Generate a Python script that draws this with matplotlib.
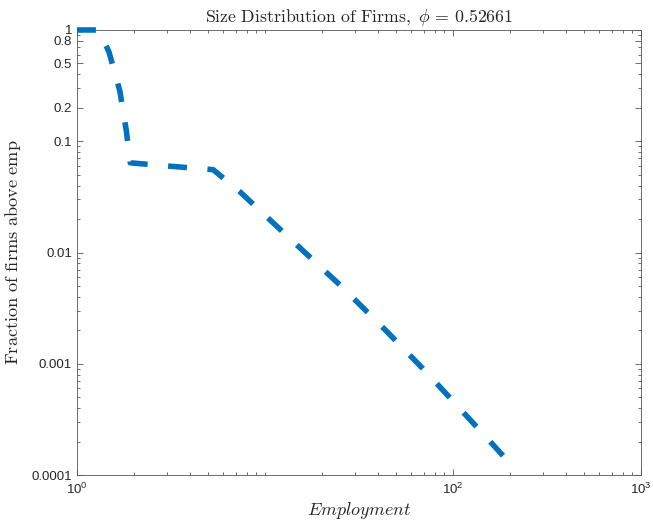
import matplotlib
matplotlib.use("Agg")
import matplotlib.pyplot as plt
from matplotlib.ticker import LogLocator, NullFormatter, FixedLocator

# Data
employment = [1.0, 1.31, 1.48, 1.69, 1.83, 1.92, 3.0, 5.3, 5.8, 7.35, 13.8, 25.7, 43.8, 72.6, 120.0, 194.0]
fraction_above = [1.0, 1.0, 0.634, 0.283, 0.124, 0.064, 0.060, 0.0555, 0.049, 0.0352,
                  0.0130, 0.0049, 0.0020, 0.00083, 0.00033, 0.000136]

yticks = [1e-4, 1e-3, 1e-2, 0.1, 0.2, 0.5, 0.8, 1.0]
ytick_labels = ["0.0001", "0.001", "0.01", "0.1", "0.2", "0.5", "0.8", "1"]
xticks = [1, 100, 1000]
xtick_labels = [r"$\mathregular{10^{0}}$", r"$\mathregular{10^{2}}$", r"$\mathregular{10^{3}}$"]

plt.rcParams["font.family"] = ["Liberation Sans", "DejaVu Sans"]
plt.rcParams["mathtext.fontset"] = "custom"
plt.rcParams["mathtext.rm"] = "Liberation Sans"

fig = plt.figure(figsize=(6.53, 5.21), dpi=100)
ax = fig.add_axes([77/653, 1 - 475/521, (641-77)/653, (475-30)/521])

ax.plot(employment, fraction_above, color=(0, 0.447, 0.741), lw=4,
        ls=(0, (3.4, 3.7)), dash_capstyle="butt", solid_joinstyle="round", clip_on=False, zorder=3)

ax.set_xscale("log")
ax.set_yscale("log")
ax.set_xlim(1, 1000)
ax.set_ylim(1e-4, 1)

ax.yaxis.set_major_locator(FixedLocator(yticks))
ax.set_yticklabels(ytick_labels)
ax.yaxis.set_minor_locator(LogLocator(base=10, subs=range(2, 10), numticks=20))
ax.yaxis.set_minor_formatter(NullFormatter())
ax.xaxis.set_major_locator(FixedLocator(xticks))
ax.set_xticklabels(xtick_labels)
ax.xaxis.set_minor_locator(LogLocator(base=10, subs=range(1, 10), numticks=20))
ax.xaxis.set_minor_formatter(NullFormatter())

axcol = "#262626"
for s in ax.spines.values():
    s.set_color("#555555")
    s.set_linewidth(0.6)
ax.tick_params(which="both", direction="in", top=True, right=True, color="#555555", width=0.6,
               labelsize=9.5, labelcolor=axcol)
ax.tick_params(which="major", length=4)
ax.tick_params(which="minor", length=2.5)
ax.tick_params(axis="x", pad=5)

ax.set_title(r"$\mathrm{Size\ Distribution\ of\ Firms,}\ \phi\,=\,0.52661$", fontsize=12.8,
             math_fontfamily="cm", color=axcol, pad=6)
ax.set_xlabel(r"$Employment$", fontsize=13, math_fontfamily="cm", color=axcol, labelpad=2)
ax.set_ylabel(r"$\mathrm{Fraction\ of\ firms\ above\ emp}$", fontsize=13.2, math_fontfamily="cm",
              color=axcol, labelpad=6)

fig.savefig("out.png", dpi=100)
